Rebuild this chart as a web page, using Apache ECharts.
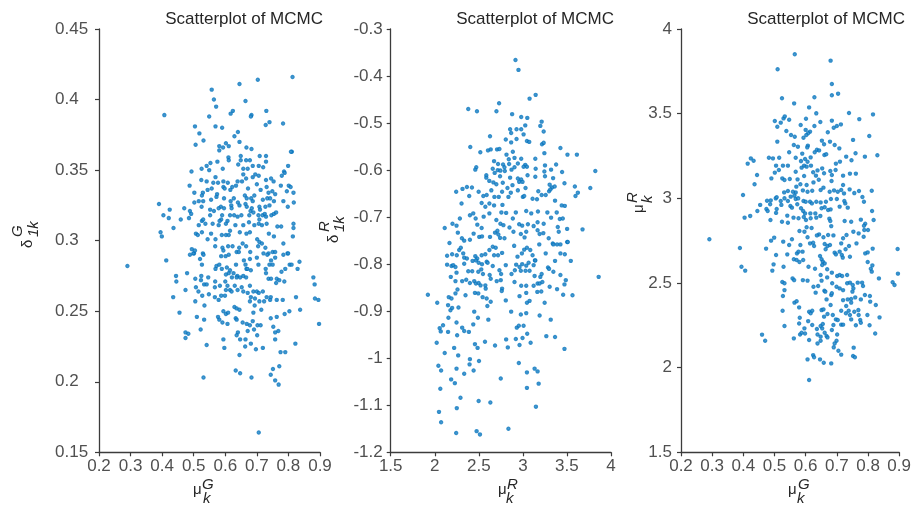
<!DOCTYPE html>
<html>
<head>
<meta charset="utf-8">
<script src="https://cdn.jsdelivr.net/npm/echarts@6/dist/echarts.min.js"></script>
<style>html,body{margin:0;padding:0;background:#fff;}#chart{width:914px;height:506px;}</style>
</head>
<body>
<div id="chart"></div>
<script>
// ---- data ----
const titleText = 'Scatterplot of MCMC';

// panel 1: x = mu_k^G, y = delta_1k^G
const panel1Points = [
[0.813,0.416],[0.703,0.414],[0.645,0.411],[0.557,0.407],[0.564,0.400],[0.664,0.399],[0.571,0.395],[0.407,0.389],[0.624,0.392],[0.617,0.390],[0.549,0.388],[0.683,0.389],[0.681,0.388],[0.730,0.392],[0.740,0.384],[0.728,0.382],[0.783,0.383],[0.504,0.381],[0.569,0.381],[0.590,0.380],[0.518,0.376],[0.640,0.377],[0.629,0.374],[0.531,0.371],[0.506,0.368],[0.645,0.370],[0.581,0.367],[0.602,0.369],[0.611,0.367],[0.581,0.364],[0.593,0.366],[0.667,0.366],[0.683,0.365],[0.811,0.363],[0.808,0.363],[0.610,0.359],[0.611,0.357],[0.649,0.360],[0.649,0.357],[0.666,0.357],[0.678,0.357],[0.709,0.360],[0.729,0.360],[0.729,0.356],[0.553,0.355],[0.575,0.356],[0.541,0.353],[0.525,0.351],[0.549,0.350],[0.592,0.351],[0.569,0.345],[0.641,0.354],[0.657,0.351],[0.671,0.351],[0.687,0.353],[0.706,0.353],[0.720,0.352],[0.799,0.353],[0.786,0.349],[0.788,0.348],[0.493,0.349],[0.657,0.347],[0.666,0.344],[0.687,0.345],[0.695,0.347],[0.706,0.346],[0.779,0.346],[0.524,0.343],[0.541,0.342],[0.562,0.341],[0.577,0.341],[0.594,0.342],[0.608,0.341],[0.639,0.342],[0.634,0.339],[0.622,0.338],[0.653,0.342],[0.729,0.343],[0.745,0.344],[0.753,0.342],[0.731,0.338],[0.776,0.339],[0.801,0.339],[0.807,0.338],[0.487,0.339],[0.502,0.334],[0.529,0.334],[0.557,0.337],[0.544,0.336],[0.594,0.338],[0.598,0.337],[0.616,0.336],[0.672,0.337],[0.700,0.340],[0.692,0.332],[0.712,0.336],[0.749,0.335],[0.737,0.334],[0.758,0.333],[0.816,0.334],[0.795,0.335],[0.574,0.333],[0.572,0.331],[0.555,0.329],[0.526,0.332],[0.530,0.328],[0.596,0.330],[0.627,0.330],[0.617,0.328],[0.640,0.327],[0.662,0.332],[0.668,0.330],[0.682,0.330],[0.687,0.328],[0.719,0.329],[0.733,0.330],[0.742,0.330],[0.754,0.328],[0.740,0.325],[0.784,0.328],[0.817,0.327],[0.798,0.324],[0.390,0.326],[0.470,0.323],[0.404,0.318],[0.424,0.322],[0.421,0.316],[0.459,0.315],[0.436,0.309],[0.395,0.306],[0.399,0.303],[0.488,0.321],[0.492,0.319],[0.502,0.327],[0.516,0.328],[0.525,0.324],[0.485,0.316],[0.552,0.322],[0.564,0.321],[0.586,0.324],[0.579,0.323],[0.596,0.323],[0.619,0.325],[0.620,0.323],[0.645,0.325],[0.664,0.326],[0.668,0.324],[0.680,0.321],[0.684,0.323],[0.708,0.324],[0.710,0.322],[0.727,0.324],[0.552,0.318],[0.590,0.318],[0.587,0.315],[0.615,0.318],[0.628,0.318],[0.639,0.317],[0.651,0.318],[0.676,0.318],[0.689,0.320],[0.705,0.318],[0.718,0.318],[0.725,0.319],[0.708,0.315],[0.729,0.317],[0.746,0.318],[0.754,0.319],[0.761,0.320],[0.526,0.314],[0.530,0.315],[0.516,0.311],[0.537,0.312],[0.560,0.312],[0.582,0.314],[0.607,0.314],[0.602,0.312],[0.579,0.311],[0.632,0.311],[0.657,0.311],[0.675,0.313],[0.692,0.311],[0.706,0.312],[0.716,0.311],[0.731,0.312],[0.765,0.310],[0.777,0.310],[0.816,0.312],[0.816,0.309],[0.814,0.303],[0.507,0.305],[0.513,0.304],[0.526,0.306],[0.555,0.305],[0.544,0.301],[0.569,0.301],[0.589,0.304],[0.602,0.304],[0.611,0.304],[0.615,0.307],[0.646,0.306],[0.667,0.305],[0.678,0.306],[0.701,0.301],[0.708,0.299],[0.716,0.298],[0.738,0.305],[0.754,0.303],[0.784,0.298],[0.797,0.291],[0.494,0.294],[0.501,0.291],[0.529,0.291],[0.568,0.296],[0.591,0.295],[0.609,0.296],[0.623,0.296],[0.644,0.295],[0.655,0.298],[0.666,0.296],[0.679,0.292],[0.704,0.296],[0.727,0.295],[0.750,0.292],[0.758,0.292],[0.737,0.291],
[0.290,0.282],[0.413,0.286],[0.488,0.290],[0.499,0.291],[0.504,0.293],[0.520,0.287],[0.531,0.290],[0.587,0.289],[0.594,0.293],[0.601,0.289],[0.611,0.290],[0.636,0.292],[0.643,0.292],[0.526,0.283],[0.572,0.282],[0.581,0.283],[0.569,0.280],[0.589,0.280],[0.605,0.281],[0.611,0.277],[0.615,0.279],[0.602,0.276],[0.626,0.277],[0.634,0.283],[0.638,0.275],[0.659,0.286],[0.664,0.283],[0.667,0.280],[0.670,0.280],[0.678,0.287],[0.700,0.288],[0.705,0.283],[0.681,0.279],[0.721,0.291],[0.733,0.290],[0.740,0.283],[0.750,0.283],[0.758,0.288],[0.745,0.286],[0.784,0.290],[0.799,0.291],[0.728,0.280],[0.729,0.277],[0.778,0.278],[0.790,0.280],[0.804,0.283],[0.810,0.283],[0.829,0.280],[0.835,0.285],[0.737,0.273],[0.745,0.273],[0.763,0.273],[0.761,0.270],[0.771,0.272],[0.787,0.271],[0.444,0.275],[0.445,0.271],[0.479,0.277],[0.505,0.273],[0.524,0.275],[0.523,0.272],[0.546,0.274],[0.533,0.269],[0.541,0.269],[0.568,0.271],[0.567,0.267],[0.507,0.267],[0.583,0.268],[0.600,0.271],[0.607,0.268],[0.602,0.265],[0.621,0.274],[0.636,0.274],[0.647,0.274],[0.657,0.275],[0.666,0.274],[0.652,0.267],[0.630,0.268],[0.678,0.268],[0.615,0.265],[0.474,0.265],[0.515,0.264],[0.527,0.261],[0.548,0.262],[0.567,0.260],[0.587,0.261],[0.599,0.261],[0.579,0.258],[0.620,0.264],[0.639,0.265],[0.657,0.264],[0.671,0.263],[0.681,0.260],[0.689,0.264],[0.700,0.264],[0.706,0.263],[0.719,0.264],[0.731,0.260],[0.744,0.260],[0.723,0.257],[0.742,0.258],[0.763,0.258],[0.782,0.258],[0.708,0.257],[0.694,0.259],[0.678,0.257],[0.435,0.260],[0.505,0.257],[0.455,0.249],[0.879,0.274],[0.883,0.269],[0.884,0.259],[0.895,0.258],[0.824,0.260],[0.837,0.251],[0.897,0.241],[0.803,0.250],[0.788,0.248],[0.763,0.246],[0.744,0.245],[0.534,0.254],[0.594,0.250],[0.602,0.248],[0.609,0.249],[0.629,0.253],[0.636,0.252],[0.645,0.251],[0.693,0.254],[0.714,0.251],[0.689,0.249],[0.510,0.246],[0.533,0.244],[0.577,0.246],[0.581,0.244],[0.591,0.242],[0.607,0.241],[0.633,0.245],[0.636,0.244],[0.655,0.242],[0.668,0.241],[0.687,0.243],[0.678,0.240],[0.702,0.240],[0.712,0.240],[0.752,0.239],[0.768,0.236],[0.758,0.235],[0.671,0.236],[0.691,0.237],[0.640,0.235],[0.636,0.233],[0.522,0.237],[0.474,0.235],[0.483,0.234],[0.474,0.231],[0.594,0.230],[0.647,0.230],[0.664,0.230],[0.681,0.227],[0.701,0.233],[0.758,0.230],[0.822,0.227],[0.541,0.226],[0.597,0.224],[0.663,0.225],[0.697,0.223],[0.719,0.224],[0.775,0.221],[0.790,0.221],[0.645,0.219],[0.771,0.211],[0.751,0.209],[0.633,0.208],[0.647,0.206],[0.744,0.205],[0.683,0.203],[0.531,0.203],[0.758,0.201],[0.769,0.198],[0.706,0.164]
];

// panel 2: x = mu_k^R, y = delta_1k^R
const panel2Points = [
[2.916,-0.366],[2.95,-0.387],[3.145,-0.44],[3.076,-0.448],[2.73,-0.458],[2.38,-0.47],[2.479,-0.475],[2.70,-0.475],[2.878,-0.481],[2.981,-0.487],[3.05,-0.489],[3.213,-0.497],[3.198,-0.506],[3.236,-0.518],[2.855,-0.513],[2.928,-0.513],[2.981,-0.513],[2.867,-0.521],[3.027,-0.505],[2.627,-0.528],[2.806,-0.535],[2.867,-0.541],[2.928,-0.534],[3.008,-0.524],[3.046,-0.538],[3.072,-0.54],[3.217,-0.545],[3.236,-0.542],[2.403,-0.551],[2.517,-0.562],[2.604,-0.558],[2.635,-0.556],[2.707,-0.556],[2.734,-0.555],[2.886,-0.561],[2.814,-0.567],[3.244,-0.564],[3.426,-0.553],[3.506,-0.567],[3.613,-0.567],[2.673,-0.581],[2.905,-0.574],[2.981,-0.576],[3.141,-0.576],[2.84,-0.577],[2.943,-0.586],[3.027,-0.589],[3.008,-0.593],[2.471,-0.594],[2.46,-0.599],[2.718,-0.587],[2.775,-0.588],[2.791,-0.594],[2.844,-0.587],[2.658,-0.597],[2.715,-0.6],[2.745,-0.601],[2.795,-0.602],[2.871,-0.599],[2.905,-0.594],[3.046,-0.593],[3.145,-0.597],[3.251,-0.59],[3.32,-0.599],[3.377,-0.588],[3.822,-0.602],[2.585,-0.611],[2.68,-0.606],[2.741,-0.613],[2.585,-0.616],[2.619,-0.623],[2.665,-0.626],[2.699,-0.63],[2.772,-0.627],[2.855,-0.616],[2.943,-0.618],[2.981,-0.62],[2.958,-0.625],[2.996,-0.625],[3.053,-0.611],[3.141,-0.614],[3.244,-0.603],[3.251,-0.613],[3.343,-0.617],[3.445,-0.604],[3.472,-0.628],[3.59,-0.635],[3.765,-0.638],[3.304,-0.631],[3.331,-0.637],[2.315,-0.64],[2.243,-0.646],[2.365,-0.636],[2.422,-0.637],[2.391,-0.655],[2.498,-0.646],[2.551,-0.655],[2.642,-0.643],[2.589,-0.653],[2.677,-0.657],[2.726,-0.657],[2.764,-0.646],[2.836,-0.657],[2.863,-0.648],[2.825,-0.638],[2.882,-0.632],[2.943,-0.643],[3.0,-0.657],[3.015,-0.655],[3.03,-0.638],[3.175,-0.645],[3.11,-0.661],[3.16,-0.662],[3.213,-0.653],[3.259,-0.653],[3.297,-0.645],[3.312,-0.641],[3.365,-0.665],[3.361,-0.635],[3.441,-0.675],[3.476,-0.676],[3.597,-0.655],[3.624,-0.648],[2.304,-0.671],[2.532,-0.67],[2.62,-0.671],[2.574,-0.678],[2.62,-0.692],[2.756,-0.69],[2.81,-0.691],[2.768,-0.674],[2.92,-0.69],[2.673,-0.675],[2.285,-0.703],[2.399,-0.696],[2.437,-0.692],[2.464,-0.703],[2.555,-0.699],[2.483,-0.716],[2.532,-0.723],[3.038,-0.687],[3.095,-0.692],[3.171,-0.688],[3.278,-0.69],[3.32,-0.701],[3.384,-0.69],[3.419,-0.704],[3.453,-0.703],[2.699,-0.706],[2.745,-0.714],[2.779,-0.717],[2.848,-0.722],[2.886,-0.703],[2.958,-0.715],[2.992,-0.718],[3.057,-0.715],[3.122,-0.719],[3.167,-0.711],[3.236,-0.714],[2.113,-0.723],[2.201,-0.714],[2.247,-0.718],[2.262,-0.733],[2.308,-0.745],[2.334,-0.75],[2.399,-0.748],[2.441,-0.735],[2.505,-0.742],[2.536,-0.741],[2.627,-0.742],[2.684,-0.733],[2.711,-0.729],[2.722,-0.737],[2.741,-0.744],[2.791,-0.745],[2.893,-0.731],[2.977,-0.736],[3.019,-0.743],[3.038,-0.731],[3.167,-0.728],[3.19,-0.736],[3.232,-0.734],[3.293,-0.745],[3.407,-0.731],[3.396,-0.721],[3.502,-0.725],[3.677,-0.726],[3.426,-0.758],[3.502,-0.753],[3.339,-0.756],[2.167,-0.755],
[2.14,-0.782],[2.197,-0.779],[2.25,-0.781],[2.277,-0.77],[2.296,-0.765],[2.323,-0.777],[2.334,-0.786],[2.365,-0.788],[2.46,-0.783],[2.482,-0.788],[2.532,-0.781],[2.574,-0.779],[2.62,-0.77],[2.658,-0.763],[2.692,-0.765],[2.673,-0.781],[2.718,-0.781],[2.764,-0.776],
[2.901,-0.761],[2.939,-0.784],[2.989,-0.777],[3.015,-0.769],[3.046,-0.765],[3.084,-0.77],[3.11,-0.781],[3.137,-0.792],[3.186,-0.758],[3.259,-0.777],[3.346,-0.758],[3.388,-0.758],[3.426,-0.777],[3.476,-0.779],[3.51,-0.753],[3.544,-0.793],
[2.14,-0.801],[2.19,-0.804],[2.209,-0.802],[2.235,-0.806],[2.334,-0.799],[2.429,-0.793],[2.467,-0.792],[2.498,-0.797],[2.536,-0.8],[2.589,-0.795],[2.6,-0.797],[2.658,-0.804],[2.806,-0.802],[2.924,-0.801],[2.962,-0.806],[2.992,-0.8],[3.038,-0.803],[3.065,-0.797],[3.122,-0.802],[3.141,-0.792],[3.285,-0.807],[3.297,-0.81],[3.365,-0.793],
[2.247,-0.818],[2.38,-0.815],[2.425,-0.815],[2.494,-0.816],[2.528,-0.811],[2.547,-0.821],[2.623,-0.823],[2.635,-0.831],[2.734,-0.813],[2.753,-0.821],[2.871,-0.821],[2.909,-0.813],[2.977,-0.814],[3.03,-0.814],[3.076,-0.814],[3.133,-0.825],[3.198,-0.827],[3.213,-0.821],[3.346,-0.816],[3.426,-0.823],[3.487,-0.834],[3.86,-0.827],[2.182,-0.827],[2.235,-0.836],[2.311,-0.836],[2.357,-0.833],
[2.399,-0.84],[2.448,-0.836],[2.467,-0.841],[2.498,-0.84],[2.52,-0.845],[2.574,-0.845],[2.578,-0.852],[2.703,-0.836],[2.749,-0.834],[2.764,-0.852],[2.905,-0.838],[2.981,-0.846],[3.038,-0.846],[3.122,-0.846],[3.167,-0.841],[3.19,-0.841],[3.221,-0.838],[3.304,-0.848],[3.388,-0.853],[3.472,-0.843],[3.457,-0.865],[3.563,-0.866],[1.922,-0.865],[2.028,-0.882],
[2.159,-0.87],[2.19,-0.873],[2.235,-0.862],[2.258,-0.854],[2.349,-0.866],[2.456,-0.861],[2.494,-0.862],[2.543,-0.87],[2.589,-0.873],[2.635,-0.88],[2.76,-0.857],[2.806,-0.877],[2.962,-0.868],[3.038,-0.861],[3.046,-0.882],[3.076,-0.878],[3.164,-0.859],[3.209,-0.858],[3.247,-0.882],
[2.151,-0.887],[2.178,-0.898],[2.197,-0.893],[2.269,-0.892],[2.448,-0.901],[2.597,-0.889],[2.867,-0.901],[2.977,-0.907],[3.038,-0.904],[3.19,-0.909],[3.316,-0.918],[2.155,-0.914],[2.247,-0.924],[2.49,-0.914],[2.608,-0.918],[2.437,-0.928],
[2.094,-0.93],[2.056,-0.936],[2.068,-0.943],[2.151,-0.944],[2.254,-0.951],[2.311,-0.935],[2.334,-0.942],[2.387,-0.944],[2.931,-0.935],[2.954,-0.931],[3.008,-0.931],[3.049,-0.948],[2.996,-0.957],[2.92,-0.959],[3.266,-0.953],[3.365,-0.955],
[2.022,-0.967],[2.22,-0.978],[2.456,-0.97],[2.486,-0.978],[2.57,-0.965],[2.684,-0.973],[2.81,-0.96],[2.829,-0.977],[2.962,-0.972],[3.088,-0.967],[3.472,-0.98],[2.113,-0.989],[2.266,-0.994],[2.399,-1.002],[2.395,-1.013],[2.502,-1.006],[2.041,-1.016],[2.072,-1.026],[2.247,-1.022],[2.334,-1.033],[2.441,-1.026],[2.954,-1.01],[3.133,-1.022],[3.167,-1.028],[3.046,-1.03],[2.749,-1.043],
[2.186,-1.045],[2.228,-1.053],[2.063,-1.065],[3.179,-1.054],[3.046,-1.063],[2.292,-1.084],[2.498,-1.091],[2.631,-1.094],[2.25,-1.106],[3.148,-1.103],[2.048,-1.114],[2.072,-1.136],[2.243,-1.159],[2.475,-1.155],[2.513,-1.162],[2.836,-1.15]
];

// panel 3: x = mu_k^G, y = mu_k^R
const panel3Points = [
[0.565,3.851],[0.680,3.813],[0.510,3.762],[0.684,3.675],[0.524,3.591],[0.563,3.561],[0.628,3.597],[0.684,3.609],[0.704,3.618],[0.611,3.537],[0.634,3.502],[0.739,3.504],[0.816,3.496],[0.772,3.468],[0.501,3.457],[0.520,3.447],[0.509,3.423],[0.529,3.472],[0.533,3.484],[0.547,3.464],[0.601,3.470],[0.584,3.433],[0.628,3.427],[0.647,3.451],[0.684,3.459],[0.690,3.417],[0.700,3.427],[0.713,3.437],[0.538,3.398],[0.553,3.374],[0.565,3.364],[0.600,3.404],[0.614,3.394],[0.608,3.384],[0.593,3.358],[0.602,3.374],[0.671,3.390],[0.804,3.368],[0.509,3.335],[0.562,3.315],[0.575,3.305],[0.607,3.311],[0.605,3.301],[0.652,3.341],[0.659,3.319],[0.678,3.335],[0.693,3.315],[0.708,3.295],[0.752,3.345],[0.547,3.272],[0.589,3.264],[0.629,3.272],[0.636,3.287],[0.643,3.283],[0.660,3.256],[0.666,3.260],[0.568,3.240],[0.585,3.220],[0.598,3.232],[0.616,3.242],[0.606,3.216],[0.730,3.246],[0.760,3.266],[0.790,3.246],[0.830,3.254],[0.747,3.225],[0.710,3.217],[0.697,3.205],[0.424,3.236],[0.414,3.205],[0.433,3.222],[0.482,3.240],[0.495,3.236],[0.515,3.240],[0.505,3.193],[0.527,3.193],[0.543,3.193],[0.595,3.193],[0.603,3.187],[0.617,3.193],[0.587,3.181],[0.444,3.138],[0.490,3.118],[0.501,3.152],[0.514,3.167],[0.525,3.118],[0.532,3.108],[0.549,3.114],[0.568,3.157],[0.574,3.112],[0.595,3.132],[0.624,3.154],[0.633,3.134],[0.638,3.165],[0.653,3.177],[0.659,3.148],[0.679,3.161],[0.684,3.138],[0.696,3.167],[0.720,3.134],[0.742,3.146],[0.761,3.146],[0.683,3.102],[0.720,3.079],[0.436,3.083],[0.399,3.020],[0.583,3.083],[0.603,3.079],[0.625,3.094],[0.642,3.110],[0.657,3.063],[0.648,3.049],[0.621,3.045],[0.606,3.039],[0.591,3.047],[0.570,3.069],[0.568,3.035],[0.559,3.039],[0.543,3.043],[0.531,3.035],[0.552,3.010],[0.543,2.984],[0.677,3.039],[0.691,3.047],[0.703,3.039],[0.714,3.049],[0.723,3.029],[0.741,3.053],[0.756,3.031],[0.771,3.043],[0.812,3.045],[0.782,3.008],[0.787,2.980],[0.504,3.000],[0.507,3.006],[0.520,2.984],[0.532,3.000],[0.564,3.016],[0.568,2.996],[0.576,3.000],[0.593,2.984],[0.600,2.980],[0.614,2.980],[0.620,2.970],[0.634,2.980],[0.648,2.976],[0.665,2.980],[0.681,2.996],[0.700,2.996],[0.724,2.984],[0.727,2.970],[0.735,2.945],[0.709,2.951],[0.454,2.961],[0.476,2.986],[0.488,2.988],[0.486,2.965],[0.507,2.937],[0.505,2.914],[0.522,2.961],[0.551,2.955],[0.556,2.945],[0.573,2.965],[0.585,2.941],[0.592,2.925],[0.598,2.911],[0.615,2.911],[0.631,2.911],[0.651,2.941],[0.661,2.947],[0.672,2.931],[0.680,2.935],[0.445,2.925],[0.474,2.937],[0.478,2.925],[0.404,2.886],[0.422,2.896],[0.487,2.872],[0.524,2.862],[0.541,2.898],[0.543,2.856],[0.561,2.886],[0.577,2.882],[0.594,2.890],[0.601,2.872],[0.616,2.882],[0.634,2.886],[0.647,2.896],[0.676,2.880],[0.679,2.866],[0.725,2.866],[0.746,2.862],[0.777,2.874],[0.791,2.850],[0.818,2.872],[0.813,2.925],
[0.291,2.758],[0.389,2.707],[0.394,2.596],[0.406,2.573],[0.460,2.195],[0.470,2.159],[0.473,2.703],[0.489,2.750],[0.499,2.768],[0.505,2.665],[0.497,2.610],[0.493,2.573],[0.529,2.596],[0.528,2.744],
[0.541,2.669],[0.547,2.724],[0.556,2.758],[0.572,2.675],[0.577,2.685],[0.590,2.685],[0.583,2.724],[0.606,2.770],[0.580,2.807],[0.596,2.803],[0.603,2.829],[0.619,2.825],[0.614,2.734],[0.624,2.738],[0.627,2.718],[0.643,2.787],[0.636,2.781],[0.657,2.770],[0.672,2.783],[0.682,2.836],[0.689,2.781],[0.661,2.730],[0.670,2.718],[0.678,2.724],[0.664,2.699],[0.646,2.659],
[0.562,2.640],[0.571,2.636],[0.580,2.624],[0.592,2.636],[0.609,2.596],[0.630,2.584],[0.651,2.640],[0.655,2.626],[0.661,2.616],[0.653,2.606],[0.669,2.581],[0.684,2.561],[0.693,2.679],[0.697,2.669],[0.709,2.685],[0.716,2.665],[0.714,2.734],[0.720,2.764],[0.731,2.783],[0.728,2.699],[0.719,2.650],[0.739,2.718],[0.742,2.655],[0.753,2.803],[0.763,2.734],[0.770,2.793],[0.787,2.838],[0.788,2.813],[0.786,2.773],[0.800,2.813],
[0.791,2.675],[0.799,2.681],[0.815,2.703],[0.799,2.624],[0.814,2.604],[0.809,2.584],[0.812,2.567],[0.835,2.527],[0.895,2.701],[0.879,2.504],[0.885,2.488],[0.896,2.555],
[0.525,2.506],[0.532,2.498],[0.558,2.527],[0.563,2.517],[0.591,2.517],[0.606,2.514],[0.648,2.547],[0.651,2.514],[0.669,2.533],[0.685,2.498],[0.701,2.541],[0.709,2.547],[0.717,2.541],[0.733,2.547],[0.699,2.478],[0.709,2.468],[0.720,2.458],[0.733,2.498],[0.742,2.502],[0.751,2.488],[0.753,2.468],[0.750,2.449],[0.767,2.502],[0.781,2.502],[0.784,2.482],
[0.532,2.458],[0.527,2.423],[0.625,2.478],[0.632,2.443],[0.640,2.482],[0.660,2.454],[0.663,2.449],[0.682,2.429],[0.684,2.439],[0.667,2.403],[0.720,2.399],[0.735,2.403],[0.746,2.405],[0.730,2.364],[0.746,2.384],[0.759,2.415],[0.777,2.403],[0.790,2.429],[0.806,2.423],[0.807,2.390],[0.825,2.370],
[0.564,2.384],[0.571,2.392],[0.579,2.356],[0.526,2.336],[0.532,2.246],[0.611,2.330],[0.616,2.321],[0.621,2.336],[0.651,2.340],[0.657,2.344],[0.670,2.317],[0.659,2.301],[0.680,2.370],[0.687,2.311],[0.697,2.285],[0.703,2.281],[0.714,2.336],[0.729,2.321],[0.738,2.336],[0.742,2.311],[0.746,2.285],[0.756,2.330],[0.769,2.340],[0.770,2.311],[0.775,2.281],[0.777,2.265],[0.798,2.311],[0.837,2.297],[0.805,2.250],[0.761,2.250],[0.714,2.254],[0.720,2.254],
[0.581,2.295],[0.579,2.261],[0.608,2.275],[0.596,2.232],[0.582,2.196],[0.587,2.206],[0.598,2.202],[0.611,2.163],[0.621,2.252],[0.636,2.228],[0.648,2.246],[0.653,2.232],[0.655,2.258],[0.638,2.196],[0.648,2.183],[0.661,2.206],[0.667,2.187],[0.670,2.179],[0.684,2.222],[0.689,2.252],[0.701,2.196],[0.699,2.159],[0.693,2.143],[0.690,2.120],[0.705,2.100],[0.714,2.077],[0.754,2.118],[0.752,2.069],[0.758,2.061],[0.823,2.202],[0.562,2.173],[0.638,2.143],[0.648,2.159],
[0.606,2.049],[0.624,2.074],[0.627,2.061],[0.646,2.049],[0.658,2.029],[0.682,2.025],[0.611,1.927]
];

// axis ranges and tick steps
const p1X = {min: 0.2, max: 0.9, step: 0.1};
const p1Y = {min: 0.15, max: 0.45, step: 0.05};
const p2X = {min: 1.5, max: 4, step: 0.5};
const p2Y = {min: -1.2, max: -0.3, step: 0.1};
const p3X = {min: 0.2, max: 0.9, step: 0.1};
const p3Y = {min: 1.5, max: 4, step: 0.5};

// ---- chart ----
const FONT = '"Liberation Sans", Arial, Helvetica, sans-serif';
const AXIS_COLOR = '#3c3c3c';
const LABEL_COLOR = '#505050';
const POINT_COLOR = '#0072BD';

function fmt(v) { return String(parseFloat(v.toFixed(2))); }

function makeAxis(r, gridIndex, isY, labelOpts) {
  return {
    type: 'value', gridIndex: gridIndex,
    min: r.min, max: r.max, interval: r.step,
    axisLine: {show: true, onZero: false, lineStyle: {color: AXIS_COLOR, width: 1.3}},
    axisTick: {show: true, inside: false, length: 4, lineStyle: {color: AXIS_COLOR, width: 1.2}},
    splitLine: {show: false},
    axisLabel: Object.assign({
      color: LABEL_COLOR, fontSize: 17, fontFamily: FONT,
      formatter: fmt, margin: isY ? 8 : 6, showMinLabel: true, showMaxLabel: true
    }, labelOpts || {})
  };
}

function txt(x, y, s, size, italic, rot, align) {
  const font = (italic ? 'italic ' : '') + size + 'px ' + FONT;
  return {
    type: 'text', x: x, y: y, rotation: rot || 0, silent: true,
    style: {
      text: s, font: font, fill: '#262626',
      align: align || 'left', verticalAlign: 'middle',
      textAlign: align || 'left', textVerticalAlign: 'middle'
    }
  };
}
const R90 = Math.PI / 2;

const graphics = [
  // titles
  txt(323, 19, titleText, 17, false, 0, 'right'),
  txt(614, 19, titleText, 17, false, 0, 'right'),
  txt(905, 19, titleText, 17, false, 0, 'right'),
  // x-axis names
  txt(193, 490, 'μ', 15, false), txt(202, 485, 'G', 15, true), txt(203, 499, 'k', 15, true),
  txt(498, 490, 'μ', 15, false), txt(507, 485, 'R', 15, true), txt(506, 499, 'k', 15, true),
  txt(788, 490, 'μ', 15, false), txt(798, 485, 'G', 15, true), txt(797, 499, 'k', 15, true),
  // y-axis names (rotated, reading upwards)
  txt(27.8, 248, 'δ', 15, false, R90), txt(17.8, 237, 'G', 15, true, R90), txt(34.3, 237, '1k', 15, true, R90),
  txt(333.8, 243, 'δ', 15, false, R90), txt(324.8, 232, 'R', 15, true, R90), txt(340.3, 232, '1k', 15, true, R90),
  txt(639, 213, 'μ', 15, false, R90), txt(633, 203, 'R', 15, true, R90), txt(648, 203, 'k', 15, true, R90)
];

const chart = echarts.init(document.getElementById('chart'), null, {renderer: 'canvas'});
chart.setOption({
  animation: false,
  backgroundColor: '#ffffff',
  grid: [
    {left: 99, right: 594, top: 29, bottom: 53.7},
    {left: 390.7, right: 303, top: 29, bottom: 53.7},
    {left: 681, right: 11.3, top: 29, bottom: 53.7}
  ],
  xAxis: [
    makeAxis(p1X, 0, false),
    makeAxis(p2X, 1, false),
    makeAxis(p3X, 2, false)
  ],
  yAxis: [
    makeAxis(p1Y, 0, true, {align: 'left', margin: 44, padding: [0, 0, 7, 0]}),
    makeAxis(p2Y, 1, true, {margin: 8}),
    makeAxis(p3Y, 2, true, {margin: 9, padding: [0, 0, 2, 0]})
  ],
  series: [
    {type: 'scatter', xAxisIndex: 0, yAxisIndex: 0, data: panel1Points},
    {type: 'scatter', xAxisIndex: 1, yAxisIndex: 1, data: panel2Points},
    {type: 'scatter', xAxisIndex: 2, yAxisIndex: 2, data: panel3Points}
  ].map(s => Object.assign(s, {
    symbol: 'emptyCircle', symbolSize: 2.4,
    itemStyle: {color: POINT_COLOR, borderColor: POINT_COLOR, borderWidth: 1},
    emphasis: {disabled: true}, silent: true
  })),
  graphic: graphics
});
</script>
</body>
</html>
